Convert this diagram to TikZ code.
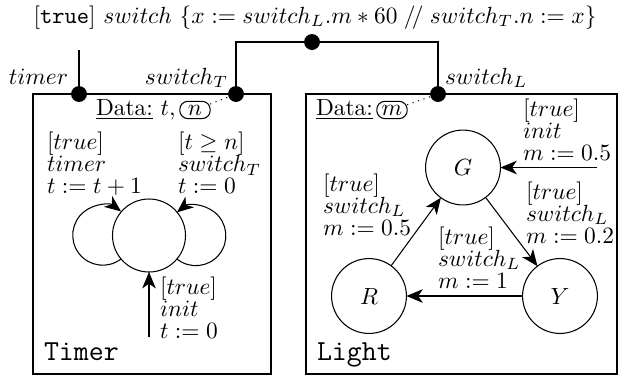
\documentclass[tikz,border=0pt]{standalone}
\usetikzlibrary{arrows.meta}
\newcommand\mylabfont{\fontsize{10pt}{9.4pt}\selectfont\lineskiplimit=-5pt\relax}
\begin{document}
\begin{tikzpicture}[x=0.4274pt,y=0.4274pt,
  every node/.style={inner sep=0pt, outer sep=0pt},
  lab/.style={align=left, anchor=north west, font=\mylabfont},
  state/.style={circle, draw, minimum size=32pt, inner sep=0pt},
  dotn/.style={circle, fill=black, minimum size=6.8pt},
  arr/.style={-{Stealth[length=7pt,width=5.8pt,inset=2pt]}},
  oval/.style={rectangle, draw, rounded corners=3.5pt, minimum width=13pt, minimum height=7.4pt},
  tlabel/.style={anchor=base west, font=\fontsize{12.4pt}{14pt}\selectfont\ttfamily},
  line width=0.45pt]
\useasboundingbox (0,0) rectangle (619,-377);
% title
\node[anchor=base] (title) at (315,-23) {[\texttt{true}] $switch\ \{x := switch_L.m * 60 \;/\!/\; switch_T.n := x\}$};
% boxes
\draw (33,-94) rectangle (271,-374);
\draw (306,-94) rectangle (617,-374);
% ports
\node[dotn] (dtop) at (312,-42) {};
\node[dotn] (dtimer) at (79,-94) {};
\node[dotn] (dswT) at (236,-94) {};
\node[dotn] (dswL) at (438,-94) {};
\draw (dswT) |- (dtop) -| (dswL);
\coordinate (ttop) at (79,-50);
\draw (ttop) -- (dtimer);
\node[anchor=base east] at (68,-84) {$timer$};
\node[anchor=base east] at (228,-84) {$switch_T$};
\node[anchor=base west] at (445,-84) {$switch_L$};
% Timer
\node[anchor=base west] (dataT) at (96,-115) {\underline{Data:} $t,$};
\node[oval, anchor=base] (n) at (195,-115) {$n$};
\draw[dotted] (n) -- (dswT);
\node[circle, draw, minimum size=31.2pt] (c) at (149,-235.5) {};
\draw[arr] (c.220.7) arc[start angle=-52.4, end angle=-307.6, radius=30];
\draw[arr] (c.320.3) arc[start angle=231, end angle=489, radius=30];
\coordinate (tinit) at (149,-337);
\draw[arr] (tinit) -- (c);
\node[lab] at (47,-132) {$[true]$\\$timer$\\$t := t+1$};
\node[lab] at (178,-132) {$[t \geq n]$\\$switch_T$\\$t := 0$};
\node[lab] at (160,-277) {$[true]$\\$init$\\$t := 0$};
\node[tlabel] at (44,-360) {Timer};
% Light
\node[anchor=base west] (dataL) at (316,-115) {\underline{Data:}};
\node[oval, anchor=base] (m) at (392,-115) {$m$};
\draw[dotted] (m) -- (dswL);
\node[state] (G) at (463,-167.5) {$G$};
\node[state] (R) at (369,-296) {$R$};
\node[state] (Y) at (560,-296) {$Y$};
\coordinate (linit) at (597,-167.5);
\draw[arr] (linit) -- (G);
\draw[arr] (G) -- (Y);
\draw[arr] (Y) -- (R);
\draw[arr] (R) -- (G);
\node[lab] at (523,-98.5) {$[true]$\\$init$\\$m := 0.5$};
\node[lab] at (526,-181.5) {$[true]$\\$switch_L$\\$m := 0.2$};
\node[lab] at (323,-173.5) {$[true]$\\$switch_L$\\$m := 0.5$};
\node[lab] at (438,-226.5) {$[true]$\\$switch_L$\\$m := 1$};
\node[tlabel] at (317,-360) {Light};
\end{tikzpicture}
\end{document}
